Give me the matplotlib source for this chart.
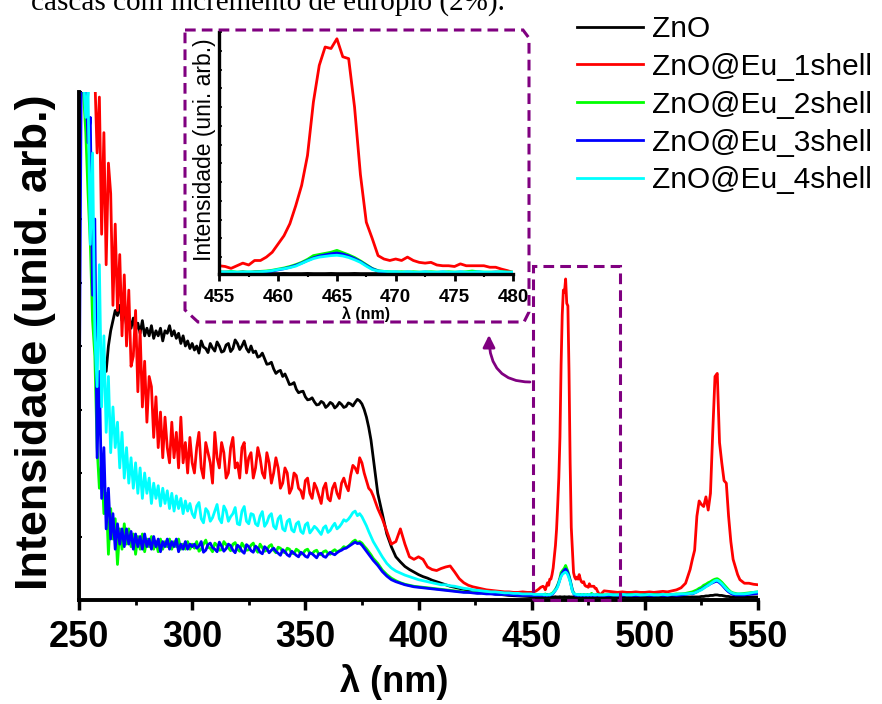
import numpy as np
import matplotlib
matplotlib.use('Agg')
from matplotlib import pyplot as plt
from matplotlib.patches import Polygon, Rectangle
from matplotlib.ticker import MultipleLocator

plt.rcParams['font.family'] = ['Liberation Sans', 'DejaVu Sans']

# wavelength grid (nm): finer where the spectra are noisy or peaked
wavelength = np.concatenate([
    np.arange(250, 301, 1),      # 51
    np.arange(301, 381, 1),      # 80
    np.arange(382, 451, 2),      # 35
    np.arange(451, 455, 1),      # 4
    np.arange(455, 480.5, 0.5),  # 51
    np.arange(482, 521, 2),      # 20
    np.arange(521, 543, 1),      # 22
    np.arange(544, 551, 2),      # 4
])

nan = np.nan

zno = [
    # 250-300 (nothing recorded below 260)
    nan, nan, nan, nan, nan, nan, nan, nan, nan, nan,
    44, 47, 45, 50, 53, 55, 57, 56, 58, 55,
    57.5, 54, 56, 53.5, 55.5, 53, 54.5, 52.5, 55, 52,
    53.5, 52, 54, 51.5, 53, 52, 53.5, 51, 53, 52.5,
    54, 52, 53, 51.5, 52.5, 50.5, 52, 50, 51, 49.5,
    50.5,
    # 301-380
    49.2, 50, 48.6, 51, 49.8, 49.5, 48.7, 50.5, 49.6, 49,
    50.8, 50, 48.8, 49, 50.2, 50.5, 48.9, 49.5, 51.2, 50.5,
    49.3, 50, 51, 49.5, 48.8, 50, 48.7, 49, 47.8, 48,
    48.6, 47.5, 46.4, 46.5, 46.8, 45.5, 44.6, 45, 45.2, 44,
    44.5, 43.5, 42.4, 42.5, 42.8, 41.5, 40.8, 41, 41.1, 40,
    39.4, 39.5, 39.8, 39, 38.4, 38.5, 39.1, 38.8, 37.9, 38.3,
    38.9, 38.6, 37.8, 38.2, 38.9, 38.5, 37.9, 38.1, 38.8, 38.6,
    38.2, 38.9, 39.5, 39.2, 38.6, 37.5, 36, 34, 31.5, 28,
    # 382-450
    21, 17, 13, 10.5, 8.5, 7.5, 6.6, 6.0, 5.5, 5.0,
    4.6, 4.3, 3.9, 3.6, 3.3, 3.0, 2.7, 2.5, 2.3, 2.1,
    1.9, 1.8, 1.6, 1.5, 1.4, 1.3, 1.2, 1.1, 1.0, 0.9,
    0.85, 0.8, 0.75, 0.7, 0.65,
    # 451-454
    0.65, 0.6, 0.6, 0.6,
    # 455-480
    0.6, 0.6, 0.65, 0.6, 0.6, 0.6, 0.65, 0.6, 0.6, 0.6,
    0.6, 0.65, 0.6, 0.6, 0.6, 0.65, 0.6, 0.6, 0.6, 0.65,
    0.6, 0.6, 0.6, 0.65, 0.6, 0.6, 0.6, 0.6, 0.55, 0.55,
    0.55, 0.55, 0.6, 0.55, 0.55, 0.55, 0.55, 0.6, 0.55, 0.55,
    0.55, 0.55, 0.6, 0.55, 0.55, 0.55, 0.55, 0.55, 0.6, 0.55,
    0.55,
    # 482-520
    0.55, 0.6, 0.55, 0.55, 0.6, 0.55, 0.55, 0.6, 0.55, 0.55,
    0.6, 0.55, 0.55, 0.6, 0.55, 0.55, 0.6, 0.6, 0.6, 0.6,
    # 521-542
    0.6, 0.6, 0.6, 0.6, 0.7, 0.7, 0.8, 0.8, 0.9, 0.9,
    1.0, 1.0, 0.9, 0.9, 0.8, 0.7, 0.7, 0.6, 0.6, 0.6,
    0.6, 0.6,
    # 544-550
    0.6, 0.6, 0.6, 0.6,
]

eu_1shell = [
    # 250-300
    105, 105, 105, 105, 105, 105, 105, 103, 88, 99,
    72, 92, 66, 86, 80, 58, 74, 57, 68, 52,
    64, 50, 61, 46, 48, 57, 41, 53, 38, 47,
    35, 44, 42, 32, 40, 30, 37, 28, 36, 30,
    27, 35, 28, 33, 26, 36, 27, 31, 25, 32,
    27,
    # 301-380
    25, 30, 33, 26, 24, 31, 29, 27, 23, 33,
    28, 26, 31, 29, 24, 25, 30, 32, 26, 27,
    24, 30, 31, 25, 28, 29, 24, 26, 30, 28,
    25, 24, 29, 27, 23, 25, 28, 26, 22, 23,
    26, 25, 21, 22, 25, 24.5, 22, 21.5, 20, 23.5,
    24, 21, 20, 23, 22, 20.5, 19, 22, 23, 20,
    19.5, 22, 23, 21, 20, 23, 24, 22.5, 21.5, 24.5,
    26.5, 26, 25, 28, 27, 25, 23.5, 22, 21.5, 20.5,
    # 382-450
    18, 16, 13.5, 11, 11.5, 14, 11, 8.5, 8, 8.5,
    8, 6.5, 6, 5.8, 6.2, 6.5, 6.7, 5.5, 4.2, 3.4,
    2.9, 2.6, 2.4, 2.2, 2.0, 1.9, 1.8, 1.7, 1.6, 1.6,
    1.5, 1.5, 1.6, 1.5, 1.5,
    # 451-454
    1.6, 1.8, 2.1, 2.5,
    # 455-480
    2.7, 2.5, 2.0, 2.7, 3.4, 2.9, 4.1, 4.1, 5.0, 6.3,
    8.5, 10.7, 13.9, 18.7, 24.1, 32.1, 46.3, 56.1, 61.0, 60.6,
    63.2, 58.4, 57.9, 45.0, 27.0, 14.3, 10.0, 5.4, 4.5, 4.1,
    4.5, 4.1, 5.0, 4.1, 3.6, 3.4, 3.6, 2.9, 2.7, 2.7,
    2.5, 3.2, 2.7, 2.7, 2.7, 2.7, 2.3, 2.3, 1.8, 1.4,
    0.9,
    # 482-520
    1.8, 1.7, 1.6, 1.5, 1.6, 1.5, 1.5, 1.6, 1.5, 1.5,
    1.6, 1.5, 1.6, 1.7, 1.6, 1.8, 2.0, 2.4, 3.3, 6.0,
    # 521-542
    8, 9.8, 16.5, 19.5, 18.8, 18.4, 20.3, 17.7, 21, 33,
    44, 44.6, 31, 27, 23.5, 23, 16.5, 11.5, 8, 6.5,
    5.0, 4.0,
    # 544-550
    3.3, 3.3, 3.1, 3.0,
]

eu_2shell = [
    # 250-300
    104, 104, 100, 92, 80, 70, 55, 48, 30, 22,
    27, 17, 21, 9, 18, 12, 16, 7, 14, 10,
    15, 11, 14, 10.5, 13, 9, 12.5, 10, 13, 9.5,
    12, 10.5, 12.5, 10, 11.5, 9.5, 12, 10, 11.5, 10.5,
    12, 10, 11.5, 10.5, 12, 10, 11, 10, 11.5, 10,
    11,
    # 301-380
    10.2, 11.5, 9.6, 10, 11, 11.8, 10.4, 10.2, 9.5, 11.2,
    10.8, 9.8, 9.9, 11.5, 10.9, 10.3, 9.7, 11, 11.3, 10,
    9.6, 11.2, 10.5, 9.8, 9.9, 10.8, 11.2, 10, 9.4, 11,
    10.3, 9.6, 9.8, 10.6, 10.9, 9.8, 9.3, 10.4, 10.2, 9.5,
    9.3, 10.2, 10, 9.2, 9.1, 10, 9.7, 9, 9.2, 9.8,
    10, 9.2, 9.1, 9.6, 9.8, 9, 8.9, 9.5, 9.7, 9.2,
    9, 9.6, 9.9, 9.5, 9.7, 10, 10.5, 10.3, 10.6, 11,
    11.5, 11.8, 11.3, 11.5, 11.2, 10.6, 10.1, 9.5, 8.9, 8.2,
    # 382-450
    7.2, 5.9, 5.0, 4.3, 3.8, 3.4, 3.1, 2.9, 2.7, 2.6,
    2.5, 2.4, 2.3, 2.2, 2.1, 2.0, 1.9, 1.8, 1.7, 1.6,
    1.5, 1.5, 1.4, 1.4, 1.3, 1.3, 1.2, 1.2, 1.1, 1.1,
    1.1, 1.0, 1.0, 1.0, 1.0,
    # 451-454
    1.0, 1.0, 1.1, 1.0,
    # 455-480
    1.1, 1.0, 1.2, 1.0, 1.1, 1.0, 1.1, 1.2, 1.3, 1.5,
    1.8, 2.1, 2.5, 3.0, 3.6, 4.4, 5.4, 5.7, 6.0, 6.3,
    6.8, 6.2, 5.6, 4.9, 4.0, 3.0, 2.0, 1.4, 1.2, 1.1,
    1.0, 1.1, 1.0, 1.1, 1.0, 1.0, 1.1, 1.0, 1.0, 1.1,
    1.0, 1.0, 1.1, 1.3, 1.1, 1.0, 1.0, 1.0, 1.1, 1.0,
    1.0,
    # 482-520
    1.0, 1.1, 1.0, 1.0, 1.1, 1.0, 1.1, 1.0, 1.0, 1.1,
    1.0, 1.1, 1.0, 1.1, 1.0, 1.1, 1.2, 1.2, 1.3, 1.5,
    # 521-542
    1.6, 1.8, 2.0, 2.3, 2.5, 2.9, 3.1, 3.4, 3.6, 3.9,
    4.1, 4.2, 3.9, 3.5, 3.0, 2.5, 2.0, 1.6, 1.4, 1.3,
    1.2, 1.2,
    # 544-550
    1.3, 1.4, 1.5, 1.6,
]

eu_3shell = [
    # 250-300
    28, 104, 104, 102, 90, 95, 60, 75, 28, 45,
    20, 30, 14, 22, 12, 17, 10, 15, 11, 14,
    10.5, 14, 11, 13.5, 10, 13, 10.5, 12.5, 10, 13,
    10.5, 12, 10, 12.5, 10.5, 12, 9.5, 11.5, 10.5, 12,
    10, 11.5, 10.5, 12, 9.5, 11, 10, 11.5, 10, 11,
    10.5,
    # 301-380
    11, 10.2, 10.6, 11.5, 9.4, 9.8, 10.9, 11.2, 10.3, 10,
    9.5, 11.4, 10.6, 9.6, 10.1, 11, 10.7, 9.8, 9.3, 10.8,
    10.4, 9.6, 9.2, 10.9, 10.5, 9.7, 9.4, 10.6, 10.2, 9.4,
    9.1, 10.5, 10.1, 9.3, 9.8, 10.2, 9.6, 9.2, 8.8, 9.9,
    9.5, 8.9, 8.6, 9.6, 9.2, 8.8, 8.5, 9.4, 9.1, 8.6,
    8.4, 9.3, 9.1, 8.7, 8.3, 9.1, 9.2, 8.6, 8.4, 9.0,
    9.4, 9.1, 8.9, 9.3, 9.6, 9.8, 10.1, 10.2, 10.5, 10.8,
    11.1, 11.4, 11.1, 11.2, 10.8, 10.2, 9.6, 9, 8.4, 7.8,
    # 382-450
    6.8, 5.6, 4.7, 4.0, 3.6, 3.3, 3.0, 2.8, 2.6, 2.5,
    2.4, 2.3, 2.2, 2.1, 2.0, 1.9, 1.8, 1.7, 1.6, 1.5,
    1.5, 1.4, 1.3, 1.3, 1.2, 1.2, 1.1, 1.1, 1.1, 1.0,
    1.0, 0.9, 0.9, 0.9, 0.9,
    # 451-454
    0.9, 0.9, 0.9, 0.9,
    # 455-480
    0.9, 1.0, 0.9, 0.9, 1.0, 0.9, 1.0, 1.0, 1.1, 1.3,
    1.6, 1.9, 2.3, 2.8, 3.4, 4.1, 4.8, 5.3, 5.6, 5.9,
    6.1, 5.8, 5.3, 4.6, 3.8, 2.8, 1.9, 1.3, 1.0, 0.9,
    1.0, 0.9, 1.0, 0.9, 0.9, 1.0, 0.9, 0.9, 1.0, 0.9,
    0.9, 1.0, 0.9, 0.9, 1.0, 0.9, 0.9, 1.0, 0.9, 0.9,
    0.9,
    # 482-520
    0.9, 0.9, 1.0, 0.9, 0.9, 1.0, 0.9, 0.9, 0.9, 1.0,
    0.9, 0.9, 1.0, 0.9, 0.9, 1.0, 0.9, 1.0, 1.1, 1.3,
    # 521-542
    1.2, 1.4, 1.6, 1.9, 2.1, 2.4, 2.7, 2.9, 3.2, 3.4,
    3.6, 3.7, 3.4, 3.0, 2.5, 2.0, 1.6, 1.3, 1.1, 1.0,
    1.0, 1.0,
    # 544-550
    1.0, 1.1, 1.2, 1.3,
]

eu_4shell = [
    # 250-300
    104, 104, 103, 95, 100, 70, 88, 52, 42, 66,
    38, 52, 33, 44, 29, 38, 30, 35, 26, 33,
    24, 30, 23, 28, 22, 27, 21, 26, 20, 25,
    21, 24, 19, 23, 20, 22.5, 18.5, 22, 19, 21.5,
    18, 21, 17.5, 20.5, 18, 20, 17, 19.5, 17.5, 19,
    17,
    # 301-380
    16.2, 18.5, 19.2, 16, 15.2, 18, 17.4, 15.5, 16.2, 17.5,
    18.8, 16, 15.2, 18.5, 17.6, 15.5, 16.4, 17, 18.2, 15,
    14.8, 17.5, 18.4, 15.5, 15, 17, 16.8, 15, 14.6, 16.5,
    17.4, 14.5, 15.2, 16.5, 17, 14.5, 14, 16, 16.6, 14,
    13.6, 15.5, 15.9, 13.8, 13.4, 15, 15.4, 13.5, 13.1, 14.8,
    15.2, 13.2, 13.8, 14.5, 14.1, 13.5, 12.9, 14.2, 14.6, 13.3,
    13.7, 14.5, 15.1, 14, 14.4, 15, 15.8, 15.5, 15.9, 16.5,
    17.2, 17.5, 16.6, 17, 16.4, 15.5, 14.6, 13.5, 12.5, 11.5,
    # 382-450
    10, 8.5, 7.2, 6.3, 5.7, 5.3, 4.9, 4.6, 4.3, 4.0,
    3.8, 3.6, 3.4, 3.2, 3.0, 3.0, 2.8, 2.7, 2.5, 2.3,
    2.2, 2.0, 1.9, 1.8, 1.7, 1.6, 1.6, 1.5, 1.4, 1.4,
    1.3, 1.3, 1.2, 1.2, 1.2,
    # 451-454
    1.1, 1.1, 1.1, 1.1,
    # 455-480
    1.1, 1.0, 1.1, 1.0, 1.0, 1.1, 1.0, 1.1, 1.2, 1.4,
    1.7, 1.9, 2.2, 2.6, 3.3, 4.0, 4.6, 5.0, 5.2, 5.4,
    5.5, 5.3, 4.9, 4.3, 3.6, 2.6, 1.7, 1.3, 1.2, 1.1,
    1.1, 1.0, 1.1, 1.0, 1.0, 1.1, 1.0, 1.0, 1.1, 1.0,
    1.0, 1.1, 1.0, 1.0, 1.1, 1.0, 1.0, 1.0, 1.1, 1.0,
    1.0,
    # 482-520
    1.0, 1.1, 1.0, 1.0, 1.1, 1.0, 1.0, 1.1, 1.0, 1.0,
    1.1, 1.0, 1.0, 1.1, 1.0, 1.1, 1.1, 1.2, 1.2, 1.3,
    # 521-542
    1.3, 1.4, 1.6, 1.8, 2.0, 2.3, 2.6, 2.9, 3.2, 3.5,
    3.8, 3.9, 3.6, 3.2, 2.7, 2.2, 1.8, 1.5, 1.3, 1.2,
    1.2, 1.2,
    # 544-550
    1.2, 1.3, 1.5, 1.6,
]

names = ['ZnO', 'ZnO@Eu_1shell', 'ZnO@Eu_2shell', 'ZnO@Eu_3shell', 'ZnO@Eu_4shell']
series = [zno, eu_1shell, eu_2shell, eu_3shell, eu_4shell]
colors = ['#000000', '#ff0000', '#00ff00', '#0000ff', '#00ffff']

# region of the main plot that the inset enlarges (nm, intensity)
ZOOM_X0, ZOOM_X1, ZOOM_TOP = 450.6, 489.0, 65.7
PURPLE = '#800080'
W, H = 882, 704


def fig_xy(x, y):
    # pixel position measured from the top-left corner -> figure fraction
    return x / W, 1 - y / H


fig = plt.figure(figsize=(W / 100, H / 100), dpi=100)

# ---- main spectrum ----
ax = fig.add_axes([79 / W, 104 / H, 679 / W, 508 / H])
for ys, name, c in zip(series, names, colors):
    ax.plot(wavelength, ys, color=c, lw=2, label=name)

ax.set_xlim(250, 550)
ax.set_ylim(0, 100)
ax.spines['top'].set_visible(False)
ax.spines['right'].set_visible(False)
ax.spines['left'].set_linewidth(2.8)
ax.spines['bottom'].set_linewidth(2.8)
ax.xaxis.set_major_locator(MultipleLocator(50))
ax.xaxis.set_minor_locator(MultipleLocator(25))
ax.yaxis.set_major_locator(MultipleLocator(12.5))
ax.tick_params(axis='x', which='major', direction='out', length=7, width=2.5,
               labelsize=26, pad=7.5)
ax.tick_params(axis='x', which='minor', direction='out', length=3.5, width=2)
ax.tick_params(axis='y', which='major', direction='in', length=2.5, width=1.5,
               labelleft=False)
for lab in ax.get_xticklabels():
    lab.set_fontweight('bold')

ax.set_xlabel('λ (nm)', fontsize=26, fontweight='bold')
ax.xaxis.set_label_coords(0.464, -0.161)
ax.xaxis.label.set(ha='center', va='center')
ax.set_ylabel('Intensidade (unid. arb.)', fontsize=32.5, fontweight='bold')
ax.yaxis.set_label_coords(-0.0648, 0.508)
ax.yaxis.label.set(ha='center', va='center')

ax.legend(loc='upper left', bbox_to_anchor=fig_xy(577, 15), bbox_transform=fig.transFigure,
          frameon=False, fontsize=21.5, handlelength=2.2, handletextpad=0.3,
          labelspacing=0.33, borderpad=0, borderaxespad=0)

# dashed box around the 465 nm peak
ax.add_patch(Rectangle((ZOOM_X0, 0), ZOOM_X1 - ZOOM_X0, ZOOM_TOP, fill=False,
                       edgecolor=PURPLE, lw=2.2, linestyle=(0, (3.5, 2)),
                       clip_on=False, zorder=4))

# ---- inset ----
axins = fig.add_axes([219.3 / W, (H - 274) / H, 294 / W, 242 / H], facecolor='white')
for ys, c in zip(series, colors):
    axins.plot(wavelength, ys, color=c, lw=2)
axins.set_xlim(455, 480)
axins.set_ylim(0.5, 65)
axins.spines['top'].set_visible(False)
axins.spines['right'].set_visible(False)
axins.spines['left'].set_linewidth(2.4)
axins.spines['bottom'].set_linewidth(2.4)
axins.xaxis.set_major_locator(MultipleLocator(5))
axins.xaxis.set_minor_locator(MultipleLocator(2.5))
axins.yaxis.set_major_locator(MultipleLocator(5))
axins.tick_params(axis='x', which='major', direction='out', length=5, width=2,
                  labelsize=13.5, pad=6)
axins.tick_params(axis='x', which='minor', direction='out', length=2.5, width=1.5)
axins.tick_params(axis='y', which='major', direction='in', length=2.5, width=1.2,
                  labelleft=False)
for lab in axins.get_xticklabels():
    lab.set_fontweight('bold')
axins.set_xlabel('λ (nm)', fontsize=11.5, fontweight='bold')
axins.xaxis.set_label_coords(0.499, -0.165)
axins.xaxis.label.set(ha='center', va='center')
axins.set_ylabel('Intensidade (uni. arb.)', fontsize=16.5)
axins.yaxis.set_label_coords(-0.052, 0.512)
axins.yaxis.label.set(ha='center', va='center')

# dashed frame around the inset
frame_px = [(185, 30), (523, 30), (529, 38), (529, 312), (524, 322), (198, 322), (185, 310)]
fig.add_artist(Polygon([fig_xy(x, y) for x, y in frame_px], closed=True, fill=False,
                       edgecolor=PURPLE, lw=2.2, linestyle=(0, (3.5, 2)),
                       transform=fig.transFigure))

# curved arrow from the peak box to the inset
ax.annotate('', xy=fig_xy(489, 335), xycoords='figure fraction',
            xytext=fig_xy(530, 382), textcoords='figure fraction',
            arrowprops=dict(arrowstyle='-|>', connectionstyle='angle3,angleA=0,angleB=90',
                            color=PURPLE, lw=2, shrinkA=0, shrinkB=0, mutation_scale=18))

# caption line of the page, cut by the top edge as in the source page
fig.text(31 / W, 1 - 10 / H, 'cascas com incremento de európio (2%).', fontsize=21,
         family=['Liberation Serif', 'DejaVu Serif'], ha='left', va='baseline')

fig.savefig('out.png', dpi=100)
